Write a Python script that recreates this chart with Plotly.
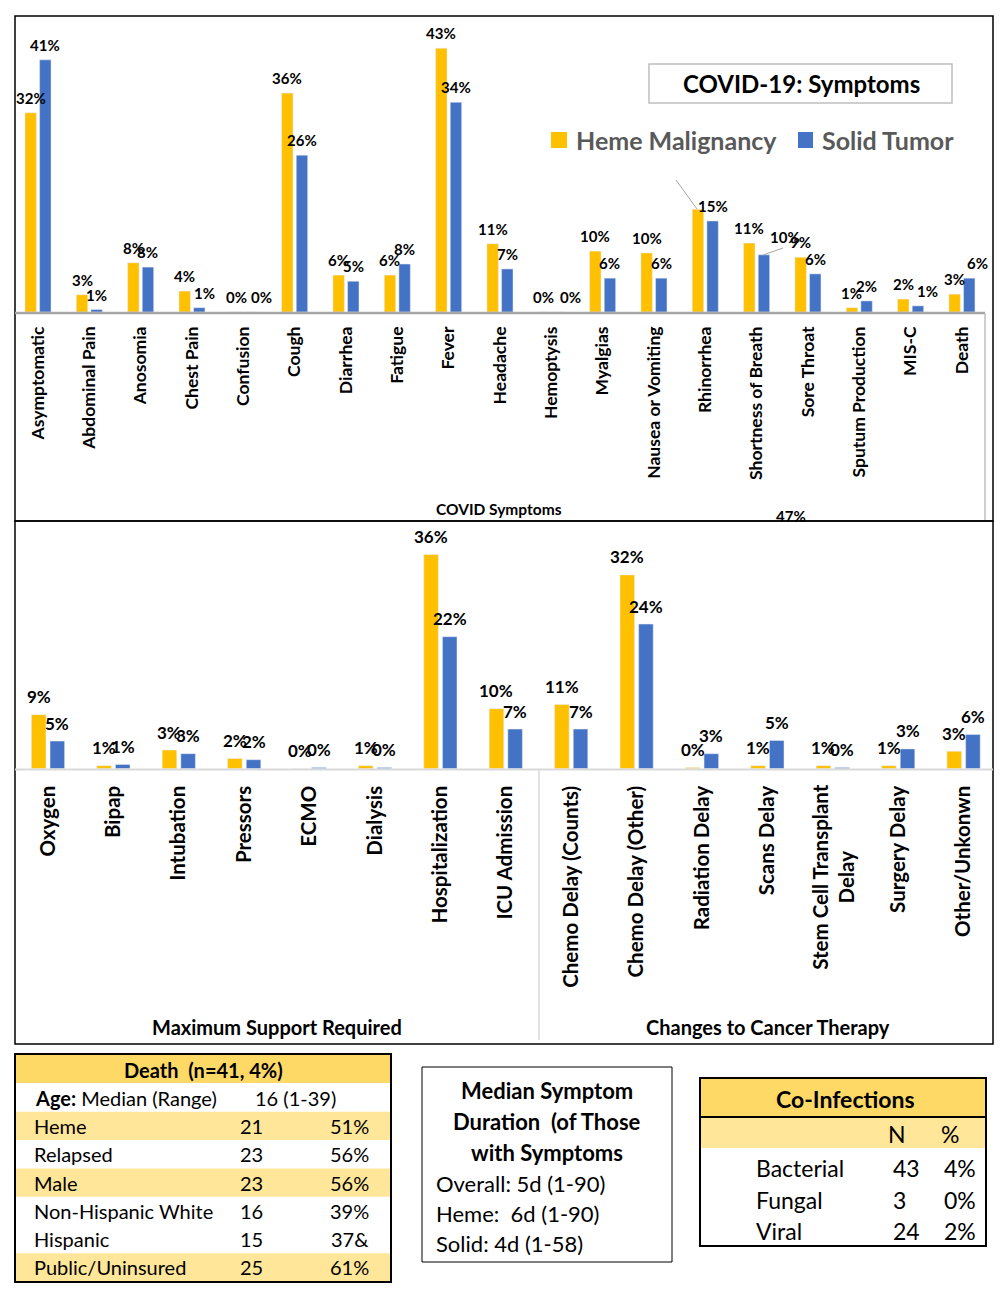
import plotly.graph_objects as go

W, H = 1003, 1298
OFF = 8  # page body margin of the browser
FW, FH = W - OFF, H - OFF
YELLOW = "#FFC000"
BLUE = "#4472C4"
FONT = "Lato"

# ---------------- data ----------------
sym_cats = ["Asymptomatic", "Abdominal Pain", "Anosomia", "Chest Pain", "Confusion", "Cough",
            "Diarrhea", "Fatigue", "Fever", "Headache", "Hemoptysis", "Myalgias",
            "Nausea or Vomiting", "Rhinorrhea", "Shortness of Breath", "Sore Throat",
            "Sputum Production", "MIS-C", "Death"]
sym_heme = [32.4, 2.8, 8.0, 3.4, 0, 35.6, 6.0, 6.0, 42.9, 11.1, 0, 9.9, 9.6, 16.7, 11.2, 8.9, 0.7, 2.1, 2.9]
sym_solid = [41.0, 0.4, 7.3, 0.7, 0, 25.5, 5.0, 7.8, 34.1, 7.0, 0, 5.5, 5.5, 14.8, 9.3, 6.2, 1.8, 1.0, 5.5]
sym_heme_lbl = ["32%", "3%", "8%", "4%", "0%", "36%", "6%", "6%", "43%", "11%", "0%", "10%", "10%", "",
                "11%", "9%", "1%", "2%", "3%"]
sym_solid_lbl = ["41%", "1%", "8%", "1%", "0%", "26%", "5%", "8%", "34%", "7%", "0%", "6%", "6%", "15%",
                 "10%", "6%", "2%", "1%", "6%"]

sup_cats = ["Oxygen", "Bipap", "Intubation", "Pressors", "ECMO", "Dialysis", "Hospitalization",
            "ICU Admission", "Chemo Delay (Counts)", "Chemo Delay (Other)", "Radiation Delay",
            "Scans Delay", "Stem Cell Transplant<br>Delay", "Surgery Delay", "Other/Unkonwn"]
sup_heme = [9.0, 0.5, 3.1, 1.7, 0, 0.5, 35.7, 10.0, 10.7, 32.3, 0.2, 0.5, 0.5, 0.5, 2.9]
sup_solid = [4.6, 0.7, 2.5, 1.5, 0.2, 0.2, 22.0, 6.6, 6.6, 24.1, 2.5, 4.7, 0.2, 3.3, 5.7]
sup_heme_lbl = ["9%", "1%", "3%", "2%", "0%", "1%", "36%", "10%", "11%", "32%", "0%", "1%", "1%", "1%", "3%"]
sup_solid_lbl = ["5%", "1%", "3%", "2%", "0%", "0%", "22%", "7%", "7%", "24%", "3%", "5%", "0%", "3%", "6%"]
sup_groups = ["Maximum Support Required", "Changes to Cancer Therapy"]

death_title = "Death  (n=41, 4%)"
death_labels = ["Heme", "Relapsed", "Male", "Non-Hispanic White", "Hispanic", "Public/Uninsured"]
death_n = ["21", "23", "23", "16", "15", "25"]
death_pct = ["51%", "56%", "56%", "39%", "37&", "61%"]
death_age = "16 (1-39)"

dur_title = ["Median Symptom", "Duration  (of Those", "with Symptoms"]
dur_lines = ["Overall: 5d (1-90)", "Heme:  6d (1-90)", "Solid: 4d (1-58)"]

coinf_labels = ["Bacterial", "Fungal", "Viral"]
coinf_n = ["43", "3", "24"]
coinf_pct = ["4%", "0%", "2%"]

# label nudges (pixel offsets of Excel's moved data labels) -- style, not data
sym_solid_nudge = {3: (5, 0), 4: (11, 0), 10: (12, 0), 14: (21, 3), 17: (10, 0), 18: (8, 0)}
# multi-line tick labels drawn centred as annotations
centred_ticks = {"Stem Cell Transplant<br>Delay"}


def X(px):
    return (px - OFF) / FW


def Y(py):
    return 1 - (py - OFF) / FH


# ---------------- layout geometry ----------------
BARGAP, GROUPGAP = 0.43, 0.22
top_x0, top_x1 = 15, 993
top_base, top_top = 312, 16
top_slot = 51.33
top_r0 = -(38 - top_x0) / top_slot
top_r1 = top_r0 + (top_x1 - top_x0) / top_slot
top_ppu = 6.15

bot_x0, bot_x1 = 15, 993
bot_base, bot_top = 768.7, 521
bot_slot = 65.4
bot_r0 = -(48 - bot_x0) / bot_slot
bot_r1 = bot_r0 + (bot_x1 - bot_x0) / bot_slot
bot_ppu = 6.0

fig = go.Figure()
fig.add_trace(go.Bar(x=sym_cats, y=sym_heme, name="Heme Malignancy", marker_color=YELLOW,
                     xaxis="x", yaxis="y", hoverinfo="skip", showlegend=False))
fig.add_trace(go.Bar(x=sym_cats, y=sym_solid, name="Solid Tumor", marker_color=BLUE,
                     xaxis="x", yaxis="y", hoverinfo="skip", showlegend=False))
fig.add_trace(go.Bar(x=sup_cats, y=sup_heme, name="Heme Malignancy", marker_color=YELLOW,
                     xaxis="x2", yaxis="y2", hoverinfo="skip", showlegend=False))
fig.add_trace(go.Bar(x=sup_cats, y=sup_solid, name="Solid Tumor", marker_color=BLUE,
                     xaxis="x2", yaxis="y2", hoverinfo="skip", showlegend=False))

ann = []
# data labels
top_off = top_slot * (1 - BARGAP) / 4
bot_off = bot_slot * (1 - BARGAP) / 4
for cats, vals, lbls, off, xr, yr, ys, fs, nudge in [
    (sym_cats, sym_heme, sym_heme_lbl, -top_off, "x", "y", 15, 15, {}),
    (sym_cats, sym_solid, sym_solid_lbl, top_off, "x", "y", 15, 15, sym_solid_nudge),
    (sup_cats, sup_heme, sup_heme_lbl, -bot_off, "x2", "y2", 18, 17, {}),
    (sup_cats, sup_solid, sup_solid_lbl, bot_off, "x2", "y2", 18, 17, {}),
]:
    for i, (c, v, t) in enumerate(zip(cats, vals, lbls)):
        if not t:
            continue
        dx, dy = nudge.get(i, (0, 0))
        ann.append(dict(x=c, y=v, xref=xr, yref=yr, text=t, showarrow=False,
                        xanchor="center", yanchor="middle", xshift=off + dx, yshift=ys + dy,
                        font=dict(family=FONT, size=fs, color="black", weight="bold")))

# centred multi-line tick label(s)
for c in sup_cats:
    if c in centred_ticks:
        ann.append(dict(x=c, y=Y(782), xref="x2", yref="paper", text=c, showarrow=False,
                        textangle=-90, align="center", xanchor="center", yanchor="top",
                        font=dict(family=FONT, size=20.5, color="black", weight="bold")))
sup_ticktext = ["" if c in centred_ticks else c for c in sup_cats]


def txt(px, py, text, size, bold=False, anchor="center", color="black"):
    ann.append(dict(x=X(px), y=Y(py), xref="paper", yref="paper", text=text, showarrow=False,
                    xanchor=anchor, yanchor="middle",
                    font=dict(family=FONT, size=size, color=color,
                              weight="bold" if bold else "normal")))


shapes = []


def rect(x0, y0, x1, y1, fill=None, line=None, lw=1.5):
    shapes.append(dict(type="rect", xref="paper", yref="paper", x0=X(x0), x1=X(x1), y0=Y(y1), y1=Y(y0),
                       fillcolor=fill if fill else "rgba(0,0,0,0)",
                       line=dict(color=line if line else "rgba(0,0,0,0)", width=lw if line else 0),
                       layer="below" if fill else "above"))


def line(x0, y0, x1, y1, color, lw):
    shapes.append(dict(type="line", xref="paper", yref="paper", x0=X(x0), x1=X(x1), y0=Y(y0), y1=Y(y1),
                       line=dict(color=color, width=lw)))


# panel borders and axes lines
rect(15, 16, 993, 521, line="black", lw=1.5)
rect(15, 521, 993, 1044, line="black", lw=1.5)
line(15, 313, 985, 313, "#A6A6A6", 2.5)
line(985, 313, 985, 520, "#BFBFBF", 1.5)
line(15, 769.5, 993, 769.5, "#D9D9D9", 2)
line(539, 769.5, 539, 1040, "#D9D9D9", 1.5)
# leader lines
line(676, 180, 697, 209, "#A6A6A6", 1)
line(763, 255, 783, 248, "#A6A6A6", 1)

# title box and legend
rect(649, 64, 952, 103, line="#BFBFBF", lw=1.5)
txt(801, 84, "COVID-19: Symptoms", 24, bold=True)
rect(551, 132, 567, 148, fill=YELLOW)
txt(574, 140, "Heme Malignancy", 25, bold=True, anchor="left", color="#595959")
rect(798, 132, 813, 148, fill=BLUE)
txt(820, 140, "Solid Tumor", 25, bold=True, anchor="left", color="#595959")

# axis titles
txt(499, 509, "COVID Symptoms", 15.5, bold=True)
txt(791, 516, "47%", 15, bold=True)
txt(277, 1027, sup_groups[0], 20, bold=True)
txt(768, 1027, sup_groups[1], 20, bold=True)

# ---------------- Death table ----------------
rect(15, 1054, 391, 1083, fill="#FFD966")
row_h = 28.3
row0 = 1083.5
death_shaded = [False, True, False, True, False, False, True]
for i, sh in enumerate(death_shaded):
    if sh:
        rect(15, row0 + i * row_h, 391, row0 + (i + 1) * row_h, fill="#FFE699")
rect(15, 1054, 391, 1282, line="black", lw=2)
txt(203, 1070, death_title, 20, bold=True)
txt(33, row0 + row_h / 2, "<b>Age:</b> Median (Range)", 20, anchor="left")
txt(253, row0 + row_h / 2, death_age, 20, anchor="left")
for i, (lab, n, p) in enumerate(zip(death_labels, death_n, death_pct)):
    yc = row0 + (i + 1.5) * row_h
    txt(32, yc, lab, 20, anchor="left")
    txt(238, yc, n, 20, anchor="left")
    txt(371, yc, p, 20, anchor="right")

# ---------------- Median duration box ----------------
rect(422, 1067, 672, 1262, line="black", lw=1)
for i, t in enumerate(dur_title):
    txt(547, 1090 + i * 31, t, 22, bold=True)
for i, t in enumerate(dur_lines):
    txt(434, 1183 + i * 30, t, 22, anchor="left")

# ---------------- Co-infections table ----------------
rect(700, 1078, 986, 1117, fill="#FFD966")
rect(700, 1117, 986, 1148, fill="#FFE699")
rect(700, 1078, 986, 1246, line="black", lw=2)
line(700, 1117, 986, 1117, "black", 2)
txt(845, 1099, "Co-Infections", 23, bold=True)
txt(897, 1134, "N", 23)
txt(950, 1134, "%", 23)
for i, (lab, n, p) in enumerate(zip(coinf_labels, coinf_n, coinf_pct)):
    yc = 1168 + i * 31.5
    txt(754, yc, lab, 23, anchor="left")
    txt(891, yc, n, 23, anchor="left")
    txt(942, yc, p, 23, anchor="left")

axis_common = dict(showgrid=False, zeroline=False, showline=False, fixedrange=True)
fig.update_layout(
    width=FW, height=FH, margin=dict(l=0, r=0, t=0, b=0),
    paper_bgcolor="white", plot_bgcolor="rgba(0,0,0,0)",
    barmode="group", bargap=BARGAP, bargroupgap=GROUPGAP, showlegend=False,
    xaxis=dict(domain=[X(top_x0), X(top_x1)], range=[top_r0, top_r1], anchor="y",
               tickangle=-90, ticks="", ticklabelstandoff=10,
               tickfont=dict(family=FONT, size=17.5, color="black", weight="bold"), **axis_common),
    yaxis=dict(domain=[Y(top_base), Y(top_top)], range=[0, (top_base - top_top) / top_ppu],
               anchor="x", showticklabels=False, **axis_common),
    xaxis2=dict(domain=[X(bot_x0), X(bot_x1)], range=[bot_r0, bot_r1], anchor="y2",
                tickangle=-90, ticks="", ticklabelstandoff=12,
                tickmode="array", tickvals=sup_cats, ticktext=sup_ticktext,
                tickfont=dict(family=FONT, size=20.5, color="black", weight="bold"), **axis_common),
    yaxis2=dict(domain=[Y(bot_base), Y(bot_top)], range=[0, (bot_base - bot_top) / bot_ppu],
                anchor="x2", showticklabels=False, **axis_common),
    annotations=ann, shapes=shapes,
)

fig.write_html("out.html")
